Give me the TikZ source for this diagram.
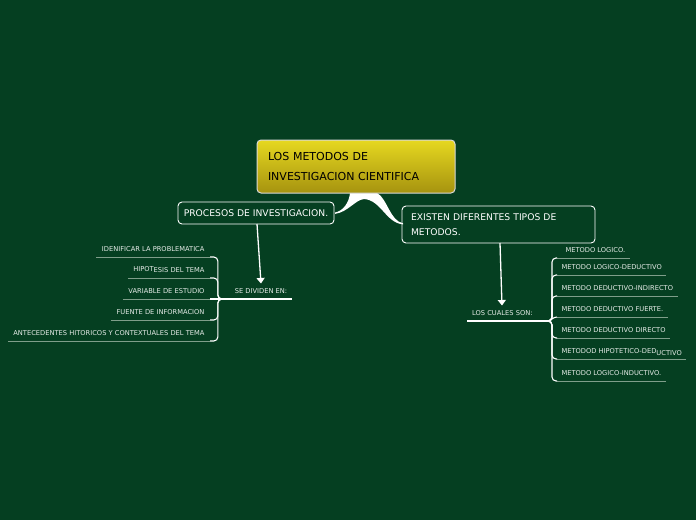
\documentclass[tikz,border=0pt]{standalone}
\usepackage{fontspec}
\setmainfont{DejaVu Sans}
\usetikzlibrary{arrows.meta,calc}
\definecolor{bg}{HTML}{053F21}
\definecolor{ytop}{HTML}{E6D820}
\definecolor{ybot}{HTML}{A6930F}
\definecolor{uline}{HTML}{7F9E8A}
\definecolor{lbl}{HTML}{E6ECE8}
\begin{document}
\begin{tikzpicture}[x=1pt,y=-1pt,
  titlebox/.style={draw=white, line width=0.9pt, rounded corners=4pt, text=white,
    font=\fontsize{9.2}{15}\selectfont, outer sep=0pt},
  rootbox/.style={draw=white!85!black, line width=1pt, rounded corners=4pt,
    top color=ytop, bottom color=ybot, text=black,
    font=\fontsize{11}{20}\selectfont, outer sep=0pt},
  leaf/.style={font=\fontsize{6.7}{8}\selectfont, text=lbl, inner xsep=5pt,
    inner ysep=5pt, text height=5pt, text depth=0.5pt, outer sep=0pt},
  underl/.style={draw=uline, line width=0.9pt},
  mainline/.style={draw=white, line width=1.4pt},
  branch/.style={draw=white, line width=1.1pt, rounded corners=4pt},
  arrowline/.style={draw=white, line width=1.3pt, -{Triangle[width=8pt,length=5.5pt]}}
]
\fill[bg] (0,0) rectangle (696,520);
\useasboundingbox (0,0) rectangle (696,520);

% tapered connectors from the root
\coordinate (ta) at (350,193);
\coordinate (tb) at (377,193);
\fill[white] (ta) -- (tb) .. controls (387,198) and (390,221) .. (403,223.3)
  -- (403,224.4) .. controls (386,223) and (381,200) .. (364,199)
  .. controls (355,200) and (348,212) .. (335,213.9)
  -- (335,212.5) .. controls (343,211) and (349,203) .. (ta) -- cycle;

% main boxes
\node[rootbox, minimum width=198pt, minimum height=53pt, text width=176pt,
  inner xsep=11pt, inner ysep=0pt, align=left] (root) at (356,166.5)
  {LOS METODOS DE\\INVESTIGACION CIENTIFICA};
\node[titlebox, minimum width=156pt, minimum height=22pt, inner sep=0pt] (proc)
  at (256,213) {PROCESOS DE INVESTIGACION.};
\node[titlebox, minimum width=193pt, minimum height=37pt, text width=175pt,
  inner xsep=9pt, inner ysep=0pt, align=left] (ecx) at (498.5,224.5)
  {EXISTEN DIFERENTES TIPOS DE\\METODOS.};

% intermediate labels
\node[leaf, anchor=south, minimum width=62pt] (sd) at (261,299) {SE DIVIDEN EN:};
\node[leaf, anchor=south west, text width=70pt, align=left] (lcs) at (467,321) {LOS CUALES SON:};

% left leaves
\node[leaf, anchor=south east, inner xsep=5.5pt] (l1) at (210,257) {IDENIFICAR LA PROBLEMATICA};
\node[leaf, anchor=south east, inner xsep=5.5pt] (l2) at (210,278) {\raisebox{1.5pt}{HIPOT}ESIS DEL TEMA};
\node[leaf, anchor=south east, inner xsep=5.5pt] (l3) at (210,299) {VARIABLE DE ESTUDIO};
\node[leaf, anchor=south east, inner xsep=5.5pt] (l4) at (210,320) {FUENTE DE INFORMACION};
\node[leaf, anchor=south east, inner xsep=5.5pt] (l5) at (210,341) {ANTECEDENTES HITORICOS Y CONTEXTUALES DEL TEMA};

% right leaves
\node[leaf, anchor=south west, inner xsep=4.5pt] (r1) at (557,258) {\hspace*{4pt}METODO LOGICO.};
\node[leaf, anchor=south west, inner xsep=4.5pt] (r2) at (557,275) {METODO LOGICO-DEDUCTIVO};
\node[leaf, anchor=south west, inner xsep=4.5pt] (r3) at (557,296) {METODO DEDUCTIVO-INDIRECTO};
\node[leaf, anchor=south west, inner xsep=4.5pt] (r4) at (557,317) {METODO DEDUCTIVO FUERTE.};
\node[leaf, anchor=south west, inner xsep=4.5pt] (r5) at (557,338) {METODO DEDUCTIVO DIRECTO};
\node[leaf, anchor=south west, inner xsep=4.5pt] (r6) at (557,359) {METODOD HIPOTETICO-DED\raisebox{-1.5pt}{UCTIVO}};
\node[leaf, anchor=south west, inner xsep=4.5pt] (r7) at (557,381) {METODO LOGICO-INDUCTIVO.};

% underlines
\foreach \c in {l1,l2,l3,l4,l5,r1,r2,r3,r4,r5,r6,r7}
  \draw[underl] (\c.south west) -- (\c.south east);
\draw[mainline] (sd.south west) -- (sd.south east);
\draw[mainline] (lcs.south west) -- (lcs.south east);

% arrows
\draw[arrowline] ($(proc.south)+(1,0)$) -- (sd.north);
\draw[arrowline] ($(ecx.south)+(1.5,0)$) -- ($(lcs.north west)+(35,0)$);

% branches left
\foreach \c in {l1,l2,l4,l5}
  \draw[branch] (sd.south west) -- ++(-12,0) |- (\c.south east);
\draw[branch] (sd.south west) -- (l3.south east);

% branches right
\foreach \c in {r1,r2,r3,r5,r6,r7}
  \draw[branch] (lcs.south east) -- ++(5,0) |- (\c.south west);
\draw[branch] (lcs.south east) to[out=0,in=180] (r4.south west);
\end{tikzpicture}
\end{document}
